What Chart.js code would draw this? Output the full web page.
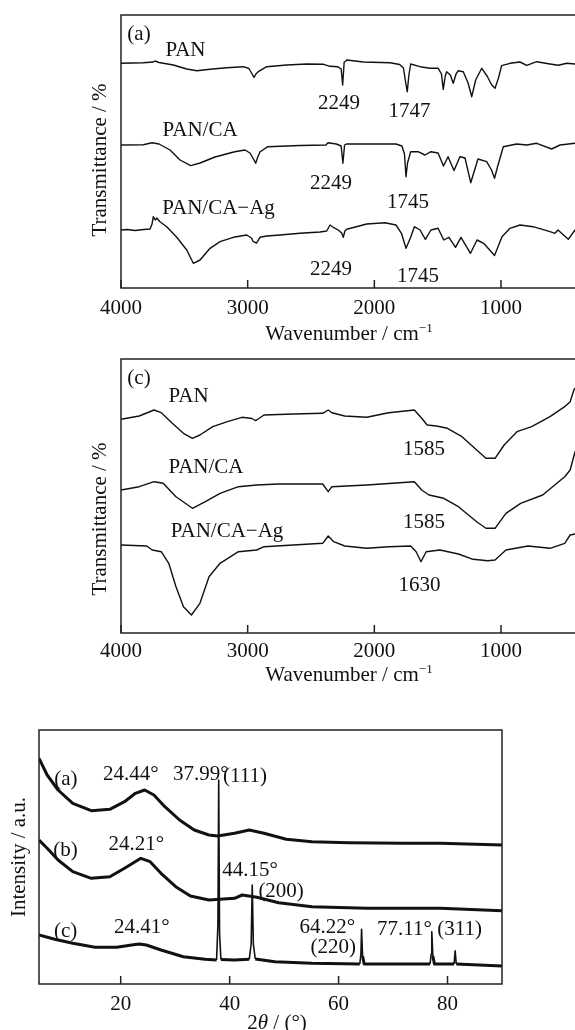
<!DOCTYPE html>
<html>
<head>
<meta charset="utf-8">
<script src="https://cdn.jsdelivr.net/npm/chart.js@4.4.0/dist/chart.umd.min.js"></script>
<style>
  html, body { margin: 0; padding: 0; background: #fff; width: 575px; height: 1030px; overflow: hidden; position: relative; }
  canvas { position: absolute; left: 0; }
</style>
</head>
<body>
<canvas id="ftirA" width="600" height="350" style="top:0px"></canvas>
<canvas id="ftirC" width="600" height="345" style="top:345px"></canvas>
<canvas id="xrd" width="575" height="340" style="top:700px"></canvas>
<script>
// ---------- data: FTIR (a), [wavenumber, transmittance a.u. with stacking offset] ----------
const ftirA_PAN = [[4000,224.7],[3824,225.3],[3745,226],[3732,227],[3700,225.5],[3587,223],[3481,219],[3402,217.3],[3297,218.7],[3166,220.3],[3034,221.3],[2990,219.5],[2965,214],[2950,210.7],[2935,214],[2916,216.3],[2850,221.3],[2692,223],[2534,224],[2400,223.7],[2350,221.7],[2290,221.3],[2262,219],[2250,203],[2238,226],[2224,227],[2218,228],[2087,226],[1876,225.3],[1800,223.5],[1770,220],[1752,205],[1740,196.3],[1728,212],[1713,224],[1639,221.3],[1561,219.7],[1495,219.7],[1470,214],[1456,198.7],[1440,212],[1429,216.3],[1400,213],[1377,204.7],[1355,214],[1337,217.3],[1298,216.3],[1260,205],[1231,191.3],[1200,208],[1152,219.7],[1110,212],[1073,203],[1047,199.7],[1020,210],[995,222.3],[929,224.7],[850,226],[797,222.7],[718,226.3],[613,224],[548,222.7],[481,224.7],[416,224],[400,224]];
const ftirA_PANCA = [[4000,143],[3824,143.3],[3755,145.3],[3700,144],[3613,138],[3534,128],[3450,122.3],[3376,125],[3258,131],[3102,136.3],[3021,138],[2982,135],[2950,128],[2937,124.7],[2920,131],[2903,136],[2842,141.3],[2587,142.5],[2382,143],[2366,145.3],[2300,144],[2262,142],[2248,124.7],[2235,143],[2220,144],[1829,144],[1782,142],[1762,134],[1750,111.3],[1738,125],[1713,136.3],[1655,136.3],[1600,133],[1553,136.3],[1497,135],[1454,122],[1418,131.3],[1371,117.5],[1324,131.3],[1284,130],[1239,105.3],[1182,129],[1113,126.3],[1075,118],[1051,109.7],[1030,120],[982,141.3],[876,144],[797,143],[718,144.7],[600,139],[534,143],[416,144.7],[400,144.7]];
const ftirA_PANCAAg = [[4000,58],[3950,58.5],[3889,57.5],[3820,58.5],[3771,59],[3755,64],[3745,71.3],[3730,68],[3718,70],[3692,66.3],[3639,61.3],[3560,50.7],[3481,38],[3429,24.7],[3376,28],[3297,39.7],[3218,46.3],[3113,50.7],[3008,53],[2970,50],[2956,46.3],[2929,45],[2903,50.7],[2850,52],[2745,53],[2587,54.7],[2429,56],[2376,57],[2350,63],[2324,60.7],[2285,58],[2258,55],[2245,50.7],[2232,57],[2218,58.7],[2060,64],[1916,65.3],[1829,63],[1786,54.7],[1750,39.7],[1713,50.7],[1684,61.3],[1639,58],[1597,48.7],[1553,58],[1497,59.7],[1452,48],[1411,50.7],[1359,40.7],[1316,50.7],[1241,34.7],[1189,48],[1137,44.7],[1051,32.5],[992,51.3],[929,59.7],[850,63],[747,61.3],[613,56.3],[574,54.7],[550,58],[469,48.7],[416,58],[400,59]];

// ---------- data: FTIR (c) ----------
const ftirC_PAN = [[4000,213.7],[3856,217],[3739,223],[3682,220.3],[3595,209.7],[3507,199.7],[3436,194.7],[3377,198],[3276,206.3],[3160,211.3],[3045,215.7],[2966,214.5],[2940,212.5],[2929,213],[2871,218],[2639,219],[2408,219.7],[2364,223],[2335,220.3],[2234,217],[2060,215.7],[1887,220.3],[1684,223],[1626,214.7],[1583,208],[1510,207],[1423,204.7],[1308,196.3],[1192,183],[1119,174.7],[1047,174.7],[975,188],[874,201.3],[758,206.3],[613,216.3],[497,226.3],[454,231.3],[425,243],[416,244.7],[400,247]];
const ftirC_PANCA = [[4000,143],[3856,146.3],[3739,151.3],[3667,149.7],[3566,136.3],[3436,124.7],[3334,131.3],[3218,139.7],[3073,146.3],[2929,148],[2755,149],[2408,149],[2364,141.3],[2335,146.3],[2060,148],[1684,151.3],[1626,143],[1568,138],[1452,134.7],[1336,126.3],[1192,111.3],[1119,104.7],[1047,104.7],[961,119.7],[845,129.7],[671,138],[497,156.3],[454,163],[416,181],[400,185]];
const ftirC_PANCAAg = [[4000,88],[3797,87],[3754,83],[3682,81.3],[3623,69.7],[3566,46.3],[3507,26.3],[3444,18],[3377,29.7],[3305,56.3],[3218,69.7],[3073,81.3],[2929,83],[2871,86.3],[2639,88],[2408,89.7],[2364,97],[2321,91.3],[2234,87],[2060,84.7],[1887,86.3],[1713,87],[1670,81.3],[1632,71.3],[1591,81.3],[1482,83],[1336,79],[1221,73.7],[1105,72.3],[1047,73],[961,83],[787,87],[613,84.7],[497,89.7],[454,98],[416,99],[400,99]];

// ---------- data: XRD, [2theta, intensity a.u. with stacking offset] ----------
const xrdA = [[5,225.7],[6.5,209],[8.5,194],[11.2,180.7],[14.6,173.3],[18,174.7],[20.7,182.3],[22.7,190.7],[24.4,194],[26.1,189],[28.1,177.3],[30.8,164],[33.5,154],[36.2,149],[37.8,148],[40.9,150.7],[43.6,154],[46.3,150.7],[50.4,144.7],[55.1,142.3],[61.9,141.3],[72,140.7],[78.7,140.7],[90,139]];
const xrdB = [[5,144],[6.5,135.7],[8.5,124],[11.2,112.3],[14.6,105.7],[18,107.3],[20.7,115.7],[23.7,125.7],[25.4,122.3],[27.4,110.7],[30.1,97.3],[32.8,88],[36.2,84],[40.9,85.7],[42.3,89],[45,86.7],[49,81.3],[55.1,77.3],[65.2,75.7],[78.7,75.7],[90,73.3]];
const xrdC = [[5,49],[7.9,44.7],[11.2,40.7],[15.3,36.7],[19.3,36.7],[22,39],[23.4,40],[24.7,39],[27.4,34],[31.5,27.3],[35.5,24.7],[37.6,24],[37.85,60],[37.99,204],[38.15,50],[38.4,24.5],[40.9,24],[43.6,24.7],[43.95,40],[44.15,99],[44.35,40],[44.7,25],[48.3,22.3],[55.1,20.7],[63.9,20],[64.1,30],[64.22,54.7],[64.4,28],[64.7,20],[71.9,20],[76.8,20],[77.0,30],[77.11,52.3],[77.3,28],[77.6,20],[81.2,20],[81.4,33.3],[81.6,20],[90,18]];

// ---------- tick values ----------
const ftirTicks = [4000, 3000, 2000, 1000];
const xrdTicks = [20, 40, 60, 80];

// ---------- annotations (text, x in data units, y in data units) ----------
const ftirA_labels = [
  ["(a)", 3858, 253.5], ["PAN", 3491, 238], ["PAN/CA", 3376, 158], ["PAN/CA\u2212Ag", 3230, 79.5],
  ["2249", 2279, 185], ["1747", 1722, 177], ["2249", 2342, 105], ["1745", 1734, 86],
  ["2249", 2342, 19], ["1745", 1655, 12]
];
const ftirC_labels = [
  ["(c)", 3858, 255], ["PAN", 3467, 237], ["PAN/CA", 3329, 165.5], ["PAN/CA\u2212Ag", 3163, 102],
  ["1585", 1608, 183.5], ["1585", 1608, 110.5], ["1630", 1643, 47.5]
];
const xrd_labels = [
  ["(a)", 9.95, 205], ["24.44\u00b0", 21.84, 210], ["37.99\u00b0", 34.72, 210], ["(111)", 42.82, 208],
  ["(b)", 9.88, 134], ["24.21\u00b0", 22.85, 139.5], ["44.15\u00b0", 43.74, 113.5], ["(200)", 49.45, 93],
  ["(c)", 9.88, 53], ["24.41\u00b0", 23.87, 56.5], ["64.22\u00b0", 57.92, 56.5], ["(220)", 59.02, 37],
  ["77.11\u00b0", 72.09, 55], ["(311)", 82.21, 55]
];

const SERIF = '"Liberation Serif", "Times New Roman", serif';
const INK = '#111';

// draws frame, inward ticks, annotations and axis titles
const decor = {
  id: 'decor',
  afterDatasetsDraw(chart, args, o) {
    const { ctx, chartArea: a } = chart;
    const xs = chart.scales.x, ys = chart.scales.y;
    ctx.save();
    ctx.strokeStyle = '#222';
    ctx.lineWidth = 1.5;
    ctx.strokeRect(a.left, a.top, a.right - a.left, a.bottom - a.top);
    ctx.beginPath();
    xs.ticks.forEach(t => {
      const px = xs.getPixelForValue(t.value);
      ctx.moveTo(px, a.bottom);
      ctx.lineTo(px, a.bottom - 8);
    });
    ctx.stroke();

    ctx.fillStyle = INK;
    ctx.font = '21px ' + SERIF;
    ctx.textAlign = 'center';
    ctx.textBaseline = 'middle';
    o.labels.forEach(l => ctx.fillText(l[0], xs.getPixelForValue(l[1]), ys.getPixelForValue(l[2])));

    // x title, made of parts (for superscript / italic)
    const parts = o.xTitle.parts;
    let w = 0;
    parts.forEach(p => { ctx.font = p.font; w += ctx.measureText(p.text).width; });
    let cx = (o.xTitle.cx != null ? o.xTitle.cx : (a.left + a.right) / 2) - w / 2;
    ctx.textAlign = 'left';
    ctx.textBaseline = 'alphabetic';
    parts.forEach(p => {
      ctx.font = p.font;
      ctx.fillText(p.text, cx, a.bottom + o.xTitle.dy - (p.rise || 0));
      cx += ctx.measureText(p.text).width;
    });

    // y title
    ctx.translate(a.left + o.yTitle.dx, a.top + o.yTitle.dy);
    ctx.rotate(-Math.PI / 2);
    ctx.font = '21px ' + SERIF;
    ctx.textAlign = 'center';
    ctx.textBaseline = 'middle';
    ctx.fillText(o.yTitle.text, 0, 0);
    ctx.restore();
  }
};

function toXY(arr) {
  return arr.map(p => ({ x: p[0], y: p[1] }));
}

// steep segments (sharp peaks) are drawn thinner than the noisy broad bands
function line(data, width, thin) {
  return {
    data: toXY(data),
    borderColor: INK,
    borderWidth: width,
    pointRadius: 0,
    tension: 0,
    borderJoinStyle: 'round',
    fill: false,
    segment: {
      borderWidth: c => {
        const dx = Math.abs(c.p1.parsed.x - c.p0.parsed.x) || 1e-6;
        const dy = Math.abs(c.p1.parsed.y - c.p0.parsed.y);
        return dy / dx > 40 ? thin : width;
      }
    }
  };
}

function makeChart(id, cfg) {
  return new Chart(document.getElementById(id), {
    type: 'line',
    data: { datasets: cfg.series.map(s => line(s, cfg.lw, cfg.thin)) },
    options: {
      responsive: false,
      animation: false,
      events: [],
      layout: { padding: cfg.pad },
      plugins: {
        legend: { display: false },
        tooltip: { enabled: false },
        decor: { labels: cfg.labels, xTitle: cfg.xTitle, yTitle: cfg.yTitle }
      },
      scales: {
        x: {
          type: 'linear',
          min: cfg.xmin,
          max: cfg.xmax,
          reverse: cfg.reverse,
          grid: { display: false, drawTicks: false },
          border: { display: false },
          afterBuildTicks: s => { s.ticks = cfg.ticks.map(v => ({ value: v })); },
          afterFit: s => { s.height = cfg.xh; },
          ticks: {
            padding: cfg.tickPad,
            color: INK,
            maxRotation: 0,
            font: { family: SERIF, size: 21 },
            callback: v => String(v)
          }
        },
        y: { type: 'linear', display: false, min: 0, max: cfg.ymax }
      }
    },
    plugins: [decor]
  });
}

const wnTitle = [
  { text: 'Wavenumber / cm', font: '21px ' + SERIF },
  { text: '\u22121', font: '13px ' + SERIF, rise: 8 }
];

makeChart('ftirA', {
  series: [ftirA_PAN, ftirA_PANCA, ftirA_PANCAAg],
  lw: 1.4, thin: 1.4,
  pad: { top: 15, left: 121, right: 23, bottom: 0 },
  xmin: 400, xmax: 4000, reverse: true, ticks: ftirTicks,
  xh: 62, tickPad: 8, ymax: 273,
  labels: ftirA_labels,
  xTitle: { parts: wnTitle, dy: 52 },
  yTitle: { text: 'Transmittance / %', dx: -21, dy: 145 }
});

makeChart('ftirC', {
  series: [ftirC_PAN, ftirC_PANCA, ftirC_PANCAAg],
  lw: 1.4, thin: 1.4,
  pad: { top: 14, left: 121, right: 23, bottom: 0 },
  xmin: 400, xmax: 4000, reverse: true, ticks: ftirTicks,
  xh: 57, tickPad: 6, ymax: 274,
  labels: ftirC_labels,
  xTitle: { parts: wnTitle, dy: 48 },
  yTitle: { text: 'Transmittance / %', dx: -21, dy: 160 }
});

makeChart('xrd', {
  series: [xrdA, xrdB, xrdC],
  lw: 3, thin: 1.6,
  pad: { top: 30, left: 39, right: 73, bottom: 0 },
  xmin: 5, xmax: 90, reverse: false, ticks: xrdTicks,
  xh: 56, tickPad: 8, ymax: 254,
  labels: xrd_labels,
  xTitle: {
    parts: [
      { text: '2', font: '21px ' + SERIF },
      { text: '\u03b8', font: 'italic 21px ' + SERIF },
      { text: ' / (\u00b0)', font: '21px ' + SERIF }
    ],
    cx: 277, dy: 45
  },
  yTitle: { text: 'Intensity / a.u.', dx: -20, dy: 127 }
});
</script>
</body>
</html>
